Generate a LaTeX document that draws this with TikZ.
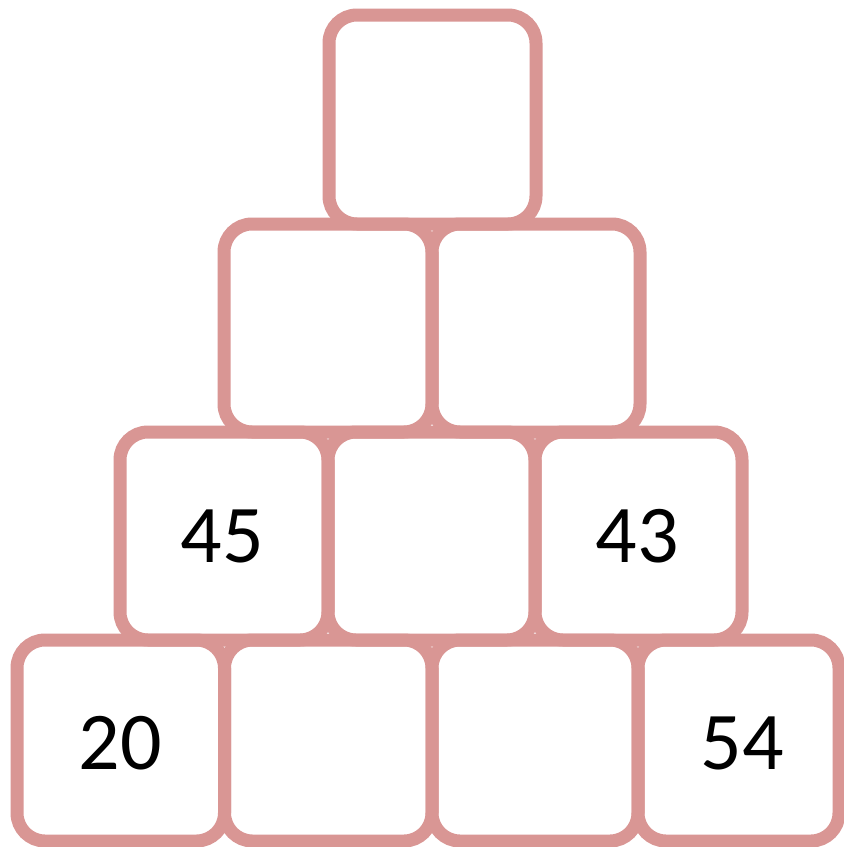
\documentclass[tikz,border=0pt]{standalone}
\usepackage{fontspec}
\setmainfont{Carlito}
\definecolor{boxpink}{RGB}{217,150,148}
\begin{document}
\begin{tikzpicture}[x=1pt,y=-1pt,
  cell/.style={draw=boxpink,line width=13pt,rounded corners=28pt},
  num/.style={font=\fontsize{82}{82}\selectfont,text=black,inner sep=0pt,anchor=center}]
\useasboundingbox[fill=white] (0,0) rectangle (844,847);
% top
\draw[cell] (329,15) rectangle (536,224);
% row 2
\draw[cell] (224,224) rectangle (432,432);
\draw[cell] (432,224) rectangle (640,432);
% row 3
\draw[cell] (120,432) rectangle (328,640);
\draw[cell] (328,432) rectangle (535,640);
\draw[cell] (535,432) rectangle (742,640);
% row 4
\draw[cell] (17,640) rectangle (224.5,841);
\draw[cell] (224.5,640) rectangle (432,841);
\draw[cell] (432,640) rectangle (638,841);
\draw[cell] (638,640) rectangle (839,841);
% numbers
\node[num] (n45) at (222,536) {45};
\node[num] (n43) at (637,536) {43};
\node[num] (n20) at (120,743) {20};
\node[num] (n54) at (742,743) {54};
\end{tikzpicture}
\end{document}
